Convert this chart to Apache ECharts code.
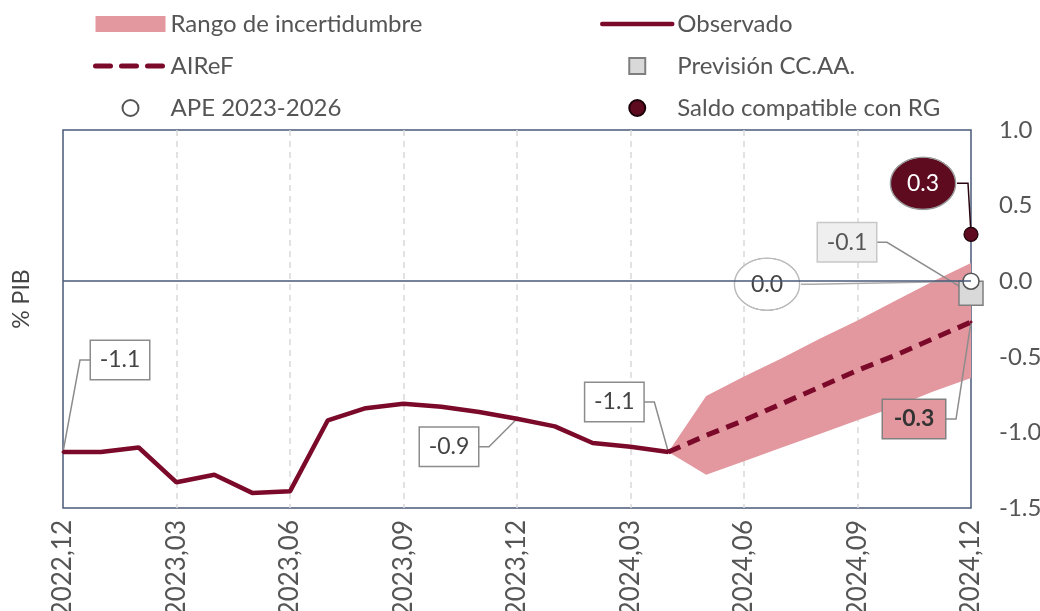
<!DOCTYPE html>
<html>
<head>
<meta charset="utf-8">
<title>Saldo CC.AA. - % PIB</title>
<script src="https://cdn.jsdelivr.net/npm/echarts@6/dist/echarts.min.js"></script>
<style>
  html, body { margin: 0; padding: 0; background: #fff; }
  #chart { width: 1040px; height: 611px; }
</style>
</head>
<body>
<div id="chart"></div>
<script>
// meses (eje X)
const months = [
  '2022,12',
  '2023,01', '2023,02', '2023,03', '2023,04', '2023,05', '2023,06',
  '2023,07', '2023,08', '2023,09', '2023,10', '2023,11', '2023,12',
  '2024,01', '2024,02', '2024,03', '2024,04', '2024,05', '2024,06',
  '2024,07', '2024,08', '2024,09', '2024,10', '2024,11', '2024,12'
]

// saldo observado (% PIB)
const observado = [
  -1.13, -1.13, -1.10, -1.33, -1.28, -1.40, -1.39, -0.92, -0.84, -0.81,
  -0.83, -0.865, -0.91, -0.96, -1.07, -1.095, -1.13,
  null, null, null, null, null, null, null, null
]

// previsión AIReF
const airef = [
  null, null, null, null, null, null, null, null, null, null,
  null, null, null, null, null, null,
  -1.13, -1.02, -0.92, -0.81, -0.70, -0.59, -0.49, -0.38, -0.27
]

// rango de incertidumbre (límite inferior y superior)
const bandaInf = [
  null, null, null, null, null, null, null, null, null, null,
  null, null, null, null, null, null,
  -1.13, -1.28, -1.19, -1.10, -1.01, -0.92, -0.83, -0.73, -0.64
]
const bandaSup = [
  null, null, null, null, null, null, null, null, null, null,
  null, null, null, null, null, null,
  -1.13, -0.76, -0.63, -0.51, -0.38, -0.26, -0.13, 0.00, 0.12
]

// objetivos a final de 2024
const previsionCCAA = -0.08
const ape = 0.0
const saldoRG = 0.31

// eje Y
const yMin = -1.5
const yMax = 1.0
const yStep = 0.5

// colores y estilos
const MAROON = '#7b0a2a'
const DARK = '#5e0a1f'
const BAND = '#e3979f'
const FRAME = '#4a5a78'
const TEXT = '#555555'
const GUIDE = '#8c8c8c'
const FONT = 'Lato, "Open Sans", sans-serif'

const last = months.length - 1
const fmt = (v) => (Array.isArray(v) ? v[1] : v).toFixed(1)

// fondo elíptico para las etiquetas redondas
const ellipse = (fill, stroke) => {
  const c = document.createElement('canvas')
  c.width = 140
  c.height = 112
  const ctx = c.getContext('2d')
  ctx.beginPath()
  ctx.ellipse(70, 56, 67, 53, 0, 0, Math.PI * 2)
  ctx.fillStyle = fill
  ctx.fill()
  ctx.lineWidth = 3
  ctx.strokeStyle = stroke
  ctx.stroke()
  return { image: c }
}

// tamaños de las etiquetas (ancho total en px)
const BOX_W = 58
const BOLD_W = 62
const OVAL_W = 68

// etiqueta tipo caja
const boxLabel = (extra) => Object.assign({
  show: true,
  position: 'inside',
  fontFamily: FONT,
  fontSize: 23,
  lineHeight: 24,
  color: '#444',
  backgroundColor: '#fff',
  borderColor: GUIDE,
  borderWidth: 1.5,
  width: BOX_W - 18,
  align: 'center',
  padding: [7, 9, 7, 9],
  formatter: (p) => fmt(p.value)
}, extra || {})

const ovalLabel = (fill, stroke, color) => boxLabel({
  backgroundColor: ellipse(fill, stroke),
  borderWidth: 0,
  width: OVAL_W - 36,
  lineHeight: 25,
  padding: [15, 18, 15, 18],
  color: color
})

// anotaciones: desplazamiento de la etiqueta respecto al punto y lado del conector
const notes = [
  { series: 'Observado', x: 0, y: () => observado[0], dx: 57, dy: -92, w: BOX_W, side: 'left', color: GUIDE },
  { series: 'Observado', x: 12, y: () => observado[12], dx: -68, dy: 28, w: BOX_W, side: 'right', color: GUIDE },
  { series: 'Observado', x: 16, y: () => observado[16], dx: -54, dy: -50, w: BOX_W, side: 'right', color: GUIDE },
  { series: 'AIReF', x: last, y: () => airef[last], dx: -57, dy: 97, w: BOLD_W, side: 'right', color: GUIDE },
  { series: 'Previsión CC.AA.', x: last, y: () => previsionCCAA, dx: -124, dy: -51, w: BOX_W, side: 'right', color: GUIDE },
  { series: 'APE 2023-2026', x: last, y: () => ape, dx: -204, dy: 3, w: OVAL_W, side: 'right', color: '#aaaaaa' },
  { series: 'Saldo compatible con RG', x: last, y: () => saldoRG, dx: -48, dy: -51, w: OVAL_W, side: 'right', color: '#2a0510' }
]

// las series de un solo punto (scatter) tienen dataIndex 0
const moveLabel = (name, single) => (p) => {
  const n = notes.find((a) => a.series === name && (single || a.x === p.dataIndex))
  return n ? { dx: n.dx, dy: n.dy } : {}
}

const obsLabelIdx = notes.filter((a) => a.series === 'Observado').map((a) => a.x)

const obsData = observado.map((v, i) => {
  if (obsLabelIdx.indexOf(i) < 0) return v
  return { value: v, symbol: 'circle', symbolSize: 3, label: boxLabel() }
})

const airefData = airef.map((v, i) => {
  if (i !== last) return v
  return {
    value: v,
    symbol: 'circle',
    symbolSize: 3,
    label: boxLabel({
      backgroundColor: BAND,
      borderColor: '#808080',
      fontWeight: 'bold',
      color: '#333',
      width: BOLD_W - 18
    })
  }
})

const bandaAncho = bandaInf.map((v, i) => (v == null ? null : bandaSup[i] - v))

const legendText = { fontSize: 24, color: TEXT, fontFamily: FONT }

const chart = echarts.init(document.getElementById('chart'))

chart.setOption({
  animation: false,
  textStyle: { fontFamily: FONT },
  grid: {
    left: 63,
    right: 69,
    top: 130,
    bottom: 103,
    outerBoundsMode: 'none',
    show: true,
    borderColor: FRAME,
    borderWidth: 1.5,
    backgroundColor: 'transparent'
  },
  legend: [
    {
      orient: 'vertical',
      left: 88,
      top: 7,
      itemWidth: 70,
      itemHeight: 16,
      itemGap: 18,
      selectedMode: false,
      textStyle: legendText,
      data: [
        { name: 'Rango de incertidumbre', icon: 'rect' },
        { name: 'AIReF', itemStyle: { opacity: 0 }, lineStyle: { width: 5, cap: 'round', type: [15, 11] } },
        { name: 'APE 2023-2026' }
      ]
    },
    {
      orient: 'vertical',
      left: 595,
      top: 7,
      itemWidth: 70,
      itemHeight: 16,
      itemGap: 18,
      selectedMode: false,
      textStyle: legendText,
      data: [
        { name: 'Observado', itemStyle: { opacity: 0 }, lineStyle: { width: 4.5, cap: 'round' } },
        { name: 'Previsión CC.AA.', icon: 'path://M0,0H10V10H0Z' },
        { name: 'Saldo compatible con RG' }
      ]
    }
  ],
  xAxis: {
    type: 'category',
    data: months,
    boundaryGap: false,
    axisLine: { show: false },
    axisTick: { show: false },
    axisLabel: {
      interval: (i) => i % 3 === 0,
      rotate: 90,
      margin: 12,
      fontSize: 26,
      color: TEXT,
      fontFamily: FONT
    },
    splitLine: {
      show: true,
      interval: (i) => i % 3 === 0 && i > 0 && i < last,
      lineStyle: { color: '#d9d9d9', width: 1.5, type: [6, 5] }
    }
  },
  yAxis: {
    type: 'value',
    position: 'right',
    min: yMin,
    max: yMax,
    interval: yStep,
    axisLine: { show: false },
    axisTick: { show: false },
    splitLine: { show: false },
    axisLabel: {
      margin: 28,
      fontSize: 24,
      color: TEXT,
      fontFamily: FONT,
      formatter: (v) => v.toFixed(1)
    }
  },
  series: [
    {
      name: 'base',
      type: 'line',
      stack: 'banda',
      stackStrategy: 'all',
      data: bandaInf,
      symbol: 'none',
      silent: true,
      lineStyle: { opacity: 0 },
      markLine: {
        silent: true,
        symbol: ['none', 'none'],
        label: { show: false },
        lineStyle: { color: FRAME, width: 1.5, type: 'solid' },
        data: [{ yAxis: 0 }]
      }
    },
    {
      name: 'Rango de incertidumbre',
      type: 'line',
      stack: 'banda',
      stackStrategy: 'all',
      data: bandaAncho,
      symbol: 'none',
      silent: true,
      itemStyle: { color: BAND },
      lineStyle: { opacity: 0 },
      areaStyle: { color: BAND, opacity: 1 }
    },
    {
      name: 'Observado',
      type: 'line',
      z: 4,
      data: obsData,
      symbol: 'none',
      itemStyle: { color: MAROON },
      lineStyle: { color: MAROON, width: 4.5 },
      labelLayout: moveLabel('Observado')
    },
    {
      name: 'AIReF',
      type: 'line',
      z: 4,
      data: airefData,
      symbol: 'none',
      itemStyle: { color: MAROON },
      lineStyle: { color: MAROON, width: 5, type: [13, 8] },
      labelLayout: moveLabel('AIReF')
    },
    {
      name: 'Previsión CC.AA.',
      type: 'scatter',
      z: 4,
      data: [[months[last], previsionCCAA]],
      symbol: 'rect',
      symbolSize: 24,
      itemStyle: { color: '#d9d9d9', borderColor: '#7f7f7f', borderWidth: 1.5, opacity: 1 },
      label: boxLabel({ backgroundColor: '#efefef', borderColor: '#c8c8c8', color: '#555' }),
      labelLayout: moveLabel('Previsión CC.AA.', true)
    },
    {
      name: 'APE 2023-2026',
      type: 'scatter',
      z: 4,
      data: [[months[last], ape]],
      symbol: 'circle',
      symbolSize: 16,
      itemStyle: { color: '#ffffff', borderColor: '#555', borderWidth: 1.5, opacity: 1 },
      label: ovalLabel('#ffffff', '#bbbbbb', '#444'),
      labelLayout: moveLabel('APE 2023-2026', true)
    },
    {
      name: 'Saldo compatible con RG',
      type: 'scatter',
      z: 4,
      data: [[months[last], saldoRG]],
      symbol: 'circle',
      symbolSize: 14,
      itemStyle: { color: DARK, borderColor: '#1a0208', borderWidth: 1.2, opacity: 1 },
      label: ovalLabel(DARK, '#9a9a9a', '#fff'),
      labelLayout: moveLabel('Saldo compatible con RG', true)
    }
  ]
})

// conectores de las etiquetas: desde el borde de la etiqueta, tramo horizontal y luego al punto
const connectors = notes.map((a) => {
  const p = chart.convertToPixel({ gridIndex: 0 }, [months[a.x], a.y()])
  const cx = p[0] + a.dx
  const cy = p[1] + a.dy
  const sign = a.side === 'left' ? -1 : 1
  const edge = cx + sign * a.w / 2
  return {
    type: 'polyline',
    z: 3,
    silent: true,
    shape: { points: [[edge, cy], [edge + sign * 11, cy], [p[0], p[1]]] },
    style: { stroke: a.color, lineWidth: 1.5, fill: null }
  }
})

chart.setOption({
  graphic: connectors.concat([
    {
      type: 'text',
      x: 22,
      y: 299,
      rotation: Math.PI / 2,
      style: {
        text: '% PIB',
        fontSize: 23,
        fontFamily: FONT,
        fill: '#444',
        align: 'center',
        verticalAlign: 'middle'
      }
    }
  ])
})
</script>
</body>
</html>
